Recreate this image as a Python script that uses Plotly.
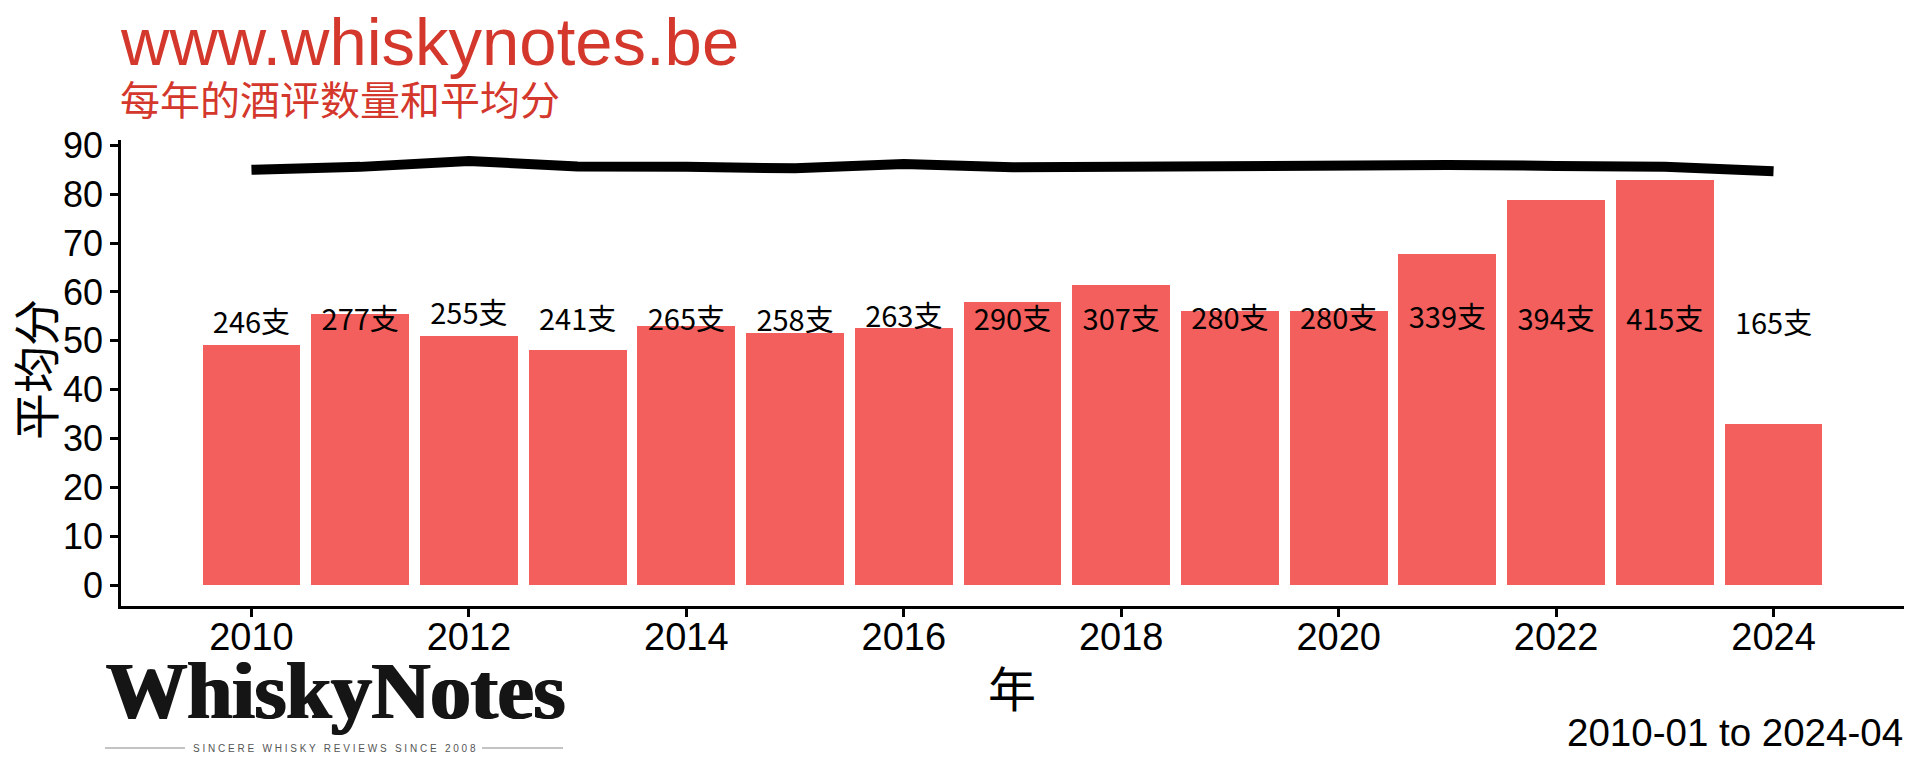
"""
Gráfico de reseñas por año
==========================
Número de reseñas (barras) y puntuación media (línea) de whiskynotes.be.
"""

import plotly.graph_objects as go

# Datos
anios = [2010, 2011, 2012, 2013, 2014, 2015, 2016, 2017,
         2018, 2019, 2020, 2021, 2022, 2023, 2024]
num_resenas = [246, 277, 255, 241, 265, 258, 263, 290,
               307, 280, 280, 339, 394, 415, 165]
puntuacion_media = [85.0, 85.6, 86.8, 85.7, 85.6, 85.3, 86.2, 85.5,
                    85.6, 85.8, 85.8, 86.0, 85.8, 85.6, 84.7]
altura_etiquetas = [53.1, 53.7, 54.9, 53.7, 53.7, 53.4, 54.4, 53.7,
                    53.7, 53.9, 53.9, 54.2, 53.7, 53.7, 52.9]
ticks_y = [0, 10, 20, 30, 40, 50, 60, 70, 80, 90]
ticks_x = [2010, 2012, 2014, 2016, 2018, 2020, 2022, 2024]

# las barras se dibujan en la escala de puntuación: reseñas / 5
ESCALA_BARRAS = 5

ROJO_TITULO = "#d4372c"
ROJO_BARRAS = "#f25f5c"
FUENTE = "Liberation Sans, Arial, sans-serif"
FUENTE_CJK = "Noto Sans CJK SC, sans-serif"

# la página tiene un margen de 8 px alrededor de la figura
MARGEN_PAGINA = 8
ANCHO, ALTO = 1920 - 2 * MARGEN_PAGINA, 768 - 2 * MARGEN_PAGINA
# área de dibujo en píxeles de la página
IZQ, DER, ARRIBA, ABAJO = 121, 1904, 140, 606


def px_x(p):
    return (p - IZQ) / (DER - IZQ)


def px_y(p):
    return (ABAJO - p) / (ABAJO - ARRIBA)


def crear_grafico_resenas() -> go.Figure:
    """
    Crea el gráfico combinado de barras + línea.

    Returns:
        Figura de Plotly
    """
    fig = go.Figure()

    # Barras: número de reseñas
    fig.add_trace(go.Bar(
        x=anios,
        y=[n / ESCALA_BARRAS for n in num_resenas],
        width=0.9,
        marker=dict(color=ROJO_BARRAS, line=dict(width=0)),
        hoverinfo="skip"
    ))

    # Etiquetas "xxx支"
    fig.add_trace(go.Scatter(
        x=anios,
        y=altura_etiquetas,
        mode="text",
        text=[f"{n}支" for n in num_resenas],
        textposition="middle center",
        textfont=dict(family=FUENTE_CJK, size=29, color="black"),
        hoverinfo="skip"
    ))

    # Línea: puntuación media
    fig.add_trace(go.Scatter(
        x=anios,
        y=puntuacion_media,
        mode="lines",
        line=dict(color="black", width=10),
        hoverinfo="skip"
    ))

    eje = dict(
        showline=True, linecolor="black", linewidth=2.5,
        ticks="outside", ticklen=8, tickwidth=2.5, tickcolor="black",
        showgrid=False, zeroline=False,
        tickfont=dict(family=FUENTE, size=38, color="black")
    )

    m = MARGEN_PAGINA
    fig.update_layout(
        width=ANCHO, height=ALTO,
        plot_bgcolor="white", paper_bgcolor="white",
        showlegend=False,
        bargap=0,
        margin=dict(l=IZQ - m, r=ANCHO + m - DER, t=ARRIBA - m,
                    b=ALTO + m - ABAJO),
        xaxis=dict(eje, range=[2008.8, 2025.2], tickvals=ticks_x,
                   ticklabelstandoff=-12),
        yaxis=dict(eje, range=[-4.3, 91.1], tickvals=ticks_y,
                   tickfont=dict(family=FUENTE, size=36, color="black")),
    )

    anotaciones = [
        # títulos
        dict(text="www.whiskynotes.be", x=px_x(118), y=px_y(42),
             xanchor="left", yanchor="middle",
             font=dict(family=FUENTE, size=67, color=ROJO_TITULO)),
        dict(text="每年的酒评数量和平均分", x=px_x(118), y=px_y(98),
             xanchor="left", yanchor="middle",
             font=dict(family=FUENTE_CJK, size=40, color=ROJO_TITULO)),
        # títulos de ejes
        dict(text="平均分", x=px_x(33), y=px_y(370), textangle=-90,
             xanchor="center", yanchor="middle",
             font=dict(family=FUENTE_CJK, size=47, color="black")),
        dict(text="年", x=px_x(1012), y=px_y(686),
             xanchor="center", yanchor="middle",
             font=dict(family=FUENTE_CJK, size=48, color="black")),
        # periodo
        dict(text="2010-01 to 2024-04", x=px_x(1905), y=px_y(732),
             xanchor="right", yanchor="middle",
             font=dict(family=FUENTE, size=38.5, color="black")),
        # logo
        dict(text="<b>WhiskyNotes</b>", x=px_x(104), y=px_y(691),
             xanchor="left", yanchor="middle",
             font=dict(family="Liberation Serif, DejaVu Serif, serif",
                       size=81, color="#151515",
                       shadow="1.5px 0px 0px #151515, -1px 0px 0px #151515")),
        dict(text="S I N C E R E   W H I S K Y   R E V I E W S   "
                  "S I N C E   2 0 0 8",
             x=px_x(334), y=px_y(748), xanchor="center", yanchor="middle",
             font=dict(family=FUENTE, size=10, color="#555555")),
    ]
    for a in anotaciones:
        a.update(xref="paper", yref="paper", showarrow=False)
    fig.update_layout(annotations=anotaciones)

    # líneas grises del logo
    for x0, x1 in [(105, 185), (482, 563)]:
        fig.add_shape(type="line", xref="paper", yref="paper",
                      x0=px_x(x0), x1=px_x(x1), y0=px_y(748), y1=px_y(748),
                      line=dict(color="#888888", width=1))

    return fig


fig = crear_grafico_resenas()
fig.write_html("out.html")
